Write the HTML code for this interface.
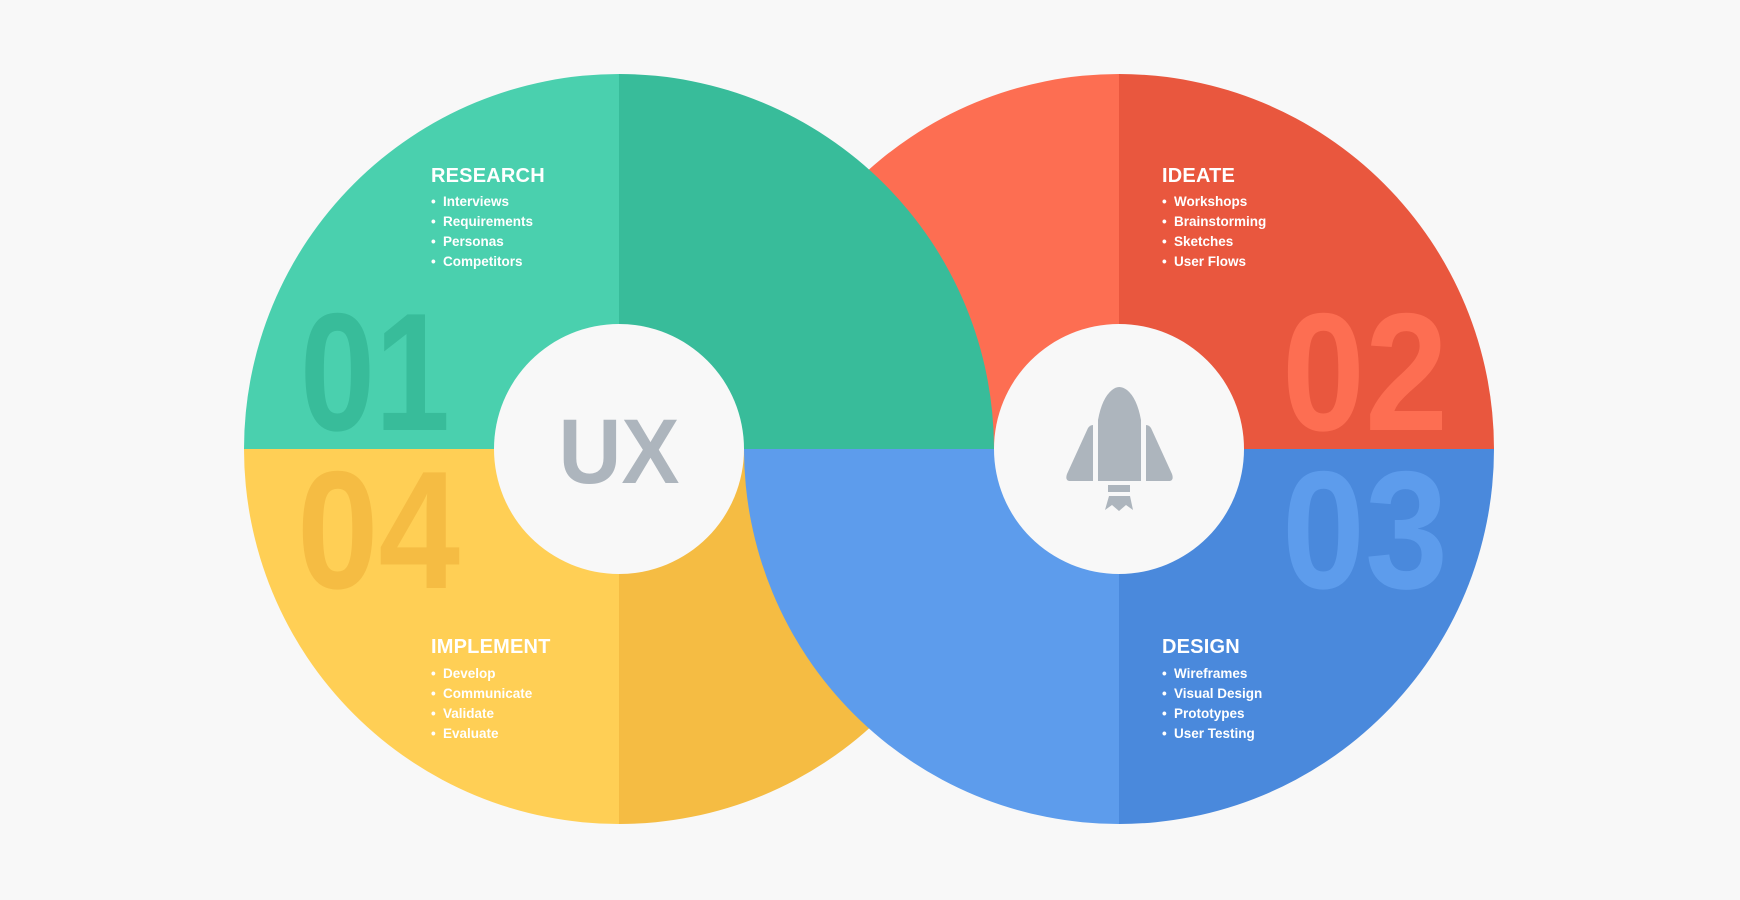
<!DOCTYPE html>
<html><head><meta charset="utf-8"><style>
html,body{margin:0;padding:0;background:#f8f8f8;}
svg{display:block}
text{font-family:"Liberation Sans",sans-serif;font-weight:bold;}
</style></head><body>
<svg width="1740" height="900" viewBox="0 0 1740 900" xmlns="http://www.w3.org/2000/svg">
<rect width="1740" height="900" fill="#f8f8f8"/>
<path d="M1119 449 L744 449 A375 375 0 0 1 1119 74 Z" fill="#fd6e52"/>
<path d="M1119 449 L1119 74 A375 375 0 0 1 1494 449 Z" fill="#e9573e"/>
<path d="M619 449 L244 449 A375 375 0 0 0 619 824 Z" fill="#ffcf55"/>
<path d="M619 449 L619 824 A375 375 0 0 0 994 449 Z" fill="#f5bc43"/>
<path d="M619 449 L244 449 A375 375 0 0 1 619 74 Z" fill="#4ad0ae"/>
<path d="M619 449 L619 74 A375 375 0 0 1 994 449 Z" fill="#38bc9a"/>
<path d="M1119 449 L744 449 A375 375 0 0 0 1119 824 Z" fill="#5d9cec"/>
<path d="M1119 449 L1119 824 A375 375 0 0 0 1494 449 Z" fill="#4a89dc"/>
<text x="300" y="430" font-size="168" fill="#38bc9a" textLength="150" lengthAdjust="spacingAndGlyphs">01</text>
<text x="1282" y="430" font-size="168" fill="#fd6e52" textLength="166" lengthAdjust="spacingAndGlyphs">02</text>
<text x="297" y="588" font-size="168" fill="#f5bc43" textLength="163" lengthAdjust="spacingAndGlyphs">04</text>
<text x="1282" y="588" font-size="168" fill="#5d9cec" textLength="166" lengthAdjust="spacingAndGlyphs">03</text>
<circle cx="619" cy="449" r="125" fill="#f8f8f8"/>
<circle cx="1119" cy="449" r="125" fill="#f8f8f8"/>
<text x="619" y="483" font-size="92" fill="#adb5bd" text-anchor="middle" textLength="121" lengthAdjust="spacingAndGlyphs">UX</text>
<g fill="#adb5bd">
<path d="M1098 481 L1098 420 Q1102 398 1112 390 Q1119 384 1127 390 Q1137 398 1141 420 L1141 481 Z"/>
<path d="M1093 425 L1093 481 L1069 481 Q1065 480 1067 474 L1088 428 Q1090 425 1093 425 Z"/>
<path d="M1146 425 L1146 481 L1170 481 Q1174 480 1172 474 L1151 428 Q1149 425 1146 425 Z"/>
<rect x="1108" y="485" width="22" height="7"/>
<path d="M1109 496 L1130 496 L1133 510 L1126 505 L1119 511 L1112 505 L1105 510 Z"/>
</g>
<g fill="#fff">
<text x="431" y="182" font-size="20" letter-spacing="0.2">RESEARCH</text>
<g font-size="13.5">
<text x="431" y="206">•</text><text x="443" y="206">Interviews</text>
<text x="431" y="226">•</text><text x="443" y="226">Requirements</text>
<text x="431" y="246">•</text><text x="443" y="246">Personas</text>
<text x="431" y="266">•</text><text x="443" y="266">Competitors</text>
</g>
<text x="1162" y="182" font-size="20" letter-spacing="0.2">IDEATE</text>
<g font-size="13.5">
<text x="1162" y="206">•</text><text x="1174" y="206">Workshops</text>
<text x="1162" y="226">•</text><text x="1174" y="226">Brainstorming</text>
<text x="1162" y="246">•</text><text x="1174" y="246">Sketches</text>
<text x="1162" y="266">•</text><text x="1174" y="266">User Flows</text>
</g>
<text x="431" y="653" font-size="20" letter-spacing="0.2">IMPLEMENT</text>
<g font-size="13.5">
<text x="431" y="678">•</text><text x="443" y="678">Develop</text>
<text x="431" y="698">•</text><text x="443" y="698">Communicate</text>
<text x="431" y="718">•</text><text x="443" y="718">Validate</text>
<text x="431" y="738">•</text><text x="443" y="738">Evaluate</text>
</g>
<text x="1162" y="653" font-size="20" letter-spacing="0.2">DESIGN</text>
<g font-size="13.5">
<text x="1162" y="678">•</text><text x="1174" y="678">Wireframes</text>
<text x="1162" y="698">•</text><text x="1174" y="698">Visual Design</text>
<text x="1162" y="718">•</text><text x="1174" y="718">Prototypes</text>
<text x="1162" y="738">•</text><text x="1174" y="738">User Testing</text>
</g>
</g>
</svg>
</body></html>
